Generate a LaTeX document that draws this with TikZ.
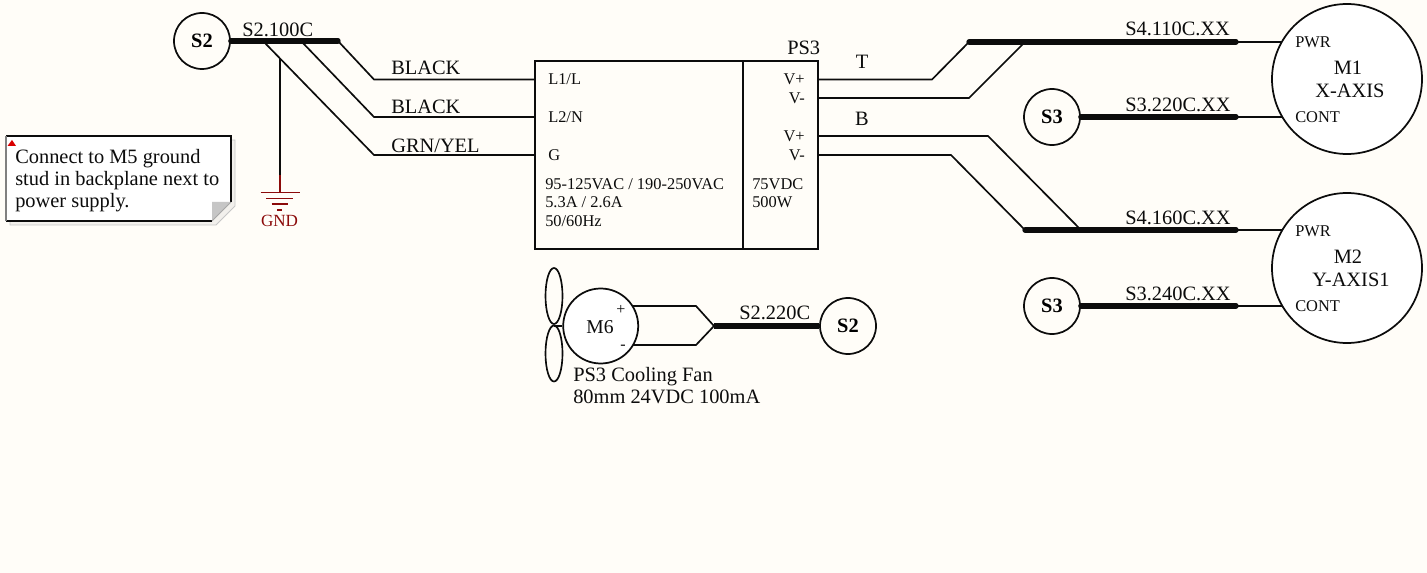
\documentclass[tikz,border=0pt]{standalone}
\usepackage{fontspec}
\setmainfont{Liberation Serif}
\usetikzlibrary{shapes.geometric}
\definecolor{paper}{HTML}{FFFDF8}
\definecolor{gndred}{HTML}{8B0A0A}
\definecolor{ink}{HTML}{0C0C0C}
\tikzset{
  wire/.style={draw=ink,line width=1.25pt,line join=miter},
  bus/.style={draw=ink,line width=4pt,line cap=round},
  port/.style={draw=ink,line width=1.3pt,circle,fill=paper,minimum size=42pt,inner sep=0pt,font=\fontsize{15.3}{18}\selectfont\bfseries},
  motor/.style={draw=ink,line width=1.3pt,circle,fill=white,minimum size=112.5pt,inner sep=0pt},
  fanmotor/.style={draw=ink,line width=1.3pt,circle,fill=white,minimum size=56.25pt,inner sep=0pt},
  blade/.style={draw=ink,line width=1.25pt,ellipse,minimum width=12.75pt,minimum height=42pt,inner sep=0pt},
  lbl/.style={anchor=base west,inner sep=0pt,text=ink,font=\fontsize{15.3}{18}\selectfont},
  lblc/.style={lbl,anchor=base},
  sm/.style={anchor=base west,inner sep=0pt,text=ink,font=\fontsize{12.3}{15}\selectfont},
  smr/.style={sm,anchor=base east},
  gndbar/.style={draw=gndred,line width=1.25pt},
}
\begin{document}
\begin{tikzpicture}[x=0.75pt,y=-0.75pt]
\useasboundingbox (0,0) rectangle (1427,573);
\fill[paper] (0,0) rectangle (1427,573);

% note
\fill[paper!90!gray] (10,140) -- (235,140) -- (235,206) -- (216,225) -- (10,225) -- cycle;
\draw[gray!45,line width=0.7pt] (10,221) -- (10,225) -- (216,225) -- (235,206) -- (235,140) -- (231,140);
\fill[white] (6,136) -- (231,136) -- (231,202) -- (212,221) -- (6,221) -- cycle;
\fill[gray!45] (212,221) -- (212,202) -- (231,202) -- cycle;
\draw[ink,line width=1pt] (6,221) -- (212,221) (6,136) -- (231,136) -- (231,202);
\draw[gray,line width=1pt] (6,136) -- (6,221);
\draw[gray!70,line width=0.6pt] (212,221) -- (231,202);
\fill[red!85!black] (7.5,146) -- (12,140) -- (16,146) -- cycle;
\node[lbl] (note1) at (15,164) {Connect to M5 ground};
\node[lbl] (note2) at (15,186) {stud in backplane next to};
\node[lbl] (note3) at (15,208) {power supply.};

% supply box
\draw[ink,line width=1.4pt] (535,61) rectangle (818,249);
\draw[ink,line width=1.4pt] (743,61) -- (743,250);
\coordinate (inL) at (535,79.5);
\coordinate (inN) at (535,117);
\coordinate (inG) at (535,155);
\coordinate (outA) at (818,79.5);
\coordinate (outB) at (818,98);
\coordinate (outC) at (818,136);
\coordinate (outD) at (818,155);

% left harness
\node[port] (s2a) at (202,41) {S2};
\coordinate (busAend) at (338,41);
\coordinate (tapN) at (301,41);
\coordinate (tapG) at (263,41);
\coordinate (bendL) at (374,79.5);
\coordinate (bendN) at (374,117);
\coordinate (bendG) at (374,155);
\coordinate (gndTap) at (280,59);
\coordinate (gndMid) at (280,175);
\coordinate (gndTop) at (280,192);
\draw[wire] (busAend) -- (bendL) -- (inL);
\draw[wire] (tapN) -- (bendN) -- (inN);
\draw[wire] (tapG) -- (bendG) -- (inG);
\draw[bus] (s2a.east) -- (busAend);
\draw[wire,line width=1.5pt] (gndTap) -- (gndMid);
\draw[gndbar,line width=1.5pt] (gndMid) -- (gndTop);
\draw[gndbar] (260.5,192.5) -- (299.5,192.5);
\draw[gndbar] (266,198.5) -- (293,198.5);
\draw[gndbar] (271.5,204) -- (287.5,204);
\draw[gndbar] (277,210) -- (282,210);
\node[anchor=base,inner sep=0pt,text=gndred,font=\fontsize{12.8}{15}\selectfont] (gnd) at (279.5,227) {GND};
\node[lbl] (w0) at (242,37) {S2.100C};
\node[lbl] (w1) at (391,75) {BLACK};
\node[lbl] (w2) at (391,114) {BLACK};
\node[lbl] (w3) at (391,153) {GRN/YEL};

% supply texts
\node[lbl] (ps3) at (787,55) {PS3};
\node[sm] (p1) at (548,85) {L1/L};
\node[sm] (p2) at (548,123) {L2/N};
\node[sm] (p3) at (548,161) {G};
\node[sm] (r1) at (545,190) {95-125VAC / 190-250VAC};
\node[sm] (r2) at (545,208) {5.3A / 2.6A};
\node[sm] (r3) at (545,227) {50/60Hz};
\node[sm] (d1) at (752,190) {75VDC};
\node[sm] (d2) at (752,208) {500W};
\node[smr] (v1) at (805,85) {V+};
\node[smr] (v2) at (805,104) {V-};
\node[smr] (v3) at (805,142) {V+};
\node[smr] (v4) at (805,161) {V-};
\node[lblc] (T) at (862,69) {T};
\node[lblc] (B) at (862,126) {B};

% motors
\node[motor] (m1) at (1347,79) {};
\node[motor] (m2) at (1347,268) {};
\node[port] (s3a) at (1052,117) {S3};
\node[port] (s3b) at (1052,306) {S3};

\coordinate (bus1a) at (969,42);
\coordinate (bus1b) at (1025,42);
\coordinate (bus1e) at (1236,42);
\coordinate (bus1m) at (1282,42);
\coordinate (bus2e) at (1236,117);
\coordinate (bus2m) at (1282,117);
\coordinate (bus3a) at (1025,230);
\coordinate (bus3b) at (1081,230);
\coordinate (bus3e) at (1236,230);
\coordinate (bus3m) at (1282,230);
\coordinate (bus4e) at (1236,306);
\coordinate (bus4m) at (1282,306);
\coordinate (bA) at (932,79.5);
\coordinate (bB) at (969,98);
\coordinate (bC) at (988,136);
\coordinate (bD) at (951,155);

\draw[wire] (outA) -- (bA) -- (bus1a);
\draw[wire] (outB) -- (bB) -- (bus1b);
\draw[wire] (outC) -- (bC) -- (bus3b);
\draw[wire] (outD) -- (bD) -- (bus3a);
\draw[wire] (bus1e) -- (bus1m);
\draw[wire] (bus2e) -- (bus2m);
\draw[wire] (bus3e) -- (bus3m);
\draw[wire] (bus4e) -- (bus4m);
\draw[bus] (bus1a) -- (bus1e);
\draw[bus] (s3a.east) -- (bus2e);
\draw[bus] (bus3a) -- (bus3e);
\draw[bus] (s3b.east) -- (bus4e);

\node[lbl] (c1) at (1125,36) {S4.110C.XX};
\node[lbl] (c2) at (1125,112) {S3.220C.XX};
\node[lbl] (c3) at (1125,225) {S4.160C.XX};
\node[lbl] (c4) at (1125,301) {S3.240C.XX};
\node[sm] (m1p) at (1295,48) {PWR};
\node[sm] (m1c) at (1295,123) {CONT};
\node[lblc] (m1n) at (1348,75) {M1};
\node[lblc] (m1x) at (1350,98) {X-AXIS};
\node[sm] (m2p) at (1295,237) {PWR};
\node[sm] (m2c) at (1295,312) {CONT};
\node[lblc] (m2n) at (1348,264) {M2};
\node[lblc] (m2x) at (1351,287) {Y-AXIS1};

% fan
\node[blade] (b1) at (554,296) {};
\node[blade] (b2) at (554,353.5) {};
\node[fanmotor] (m6) at (600.7,326) {};
\coordinate (hub) at (554,326);
\draw[wire] (hub) -- (m6.west);
\node[port] (s2b) at (848,326) {S2};
\coordinate (fanP) at (633,306);
\coordinate (fanN) at (633,345);
\coordinate (fanPb) at (696,306);
\coordinate (fanNb) at (696,345);
\coordinate (fanJ) at (714,326);
\draw[wire] (fanP) -- (fanPb) -- (fanJ) -- (fanNb) -- (fanN);
\draw[bus,line cap=butt] (fanJ) -- (s2b.west);
\node[lblc,font=\fontsize{14.7}{16}\selectfont] (m6n) at (600,334) {M6};
\node[anchor=base,inner sep=0pt,text=ink,font=\fontsize{12}{14}\selectfont] (plus) at (621,315) {+};
\node[anchor=base,inner sep=0pt,text=ink,font=\fontsize{12}{14}\selectfont] (minus) at (623,349.5) {-};
\node[lbl] (f1) at (573,382) {PS3 Cooling Fan};
\node[lbl] (f2) at (573,403) {80mm 24VDC 100mA};
\node[lbl] (f3) at (739,320) {S2.220C};
\end{tikzpicture}
\end{document}
